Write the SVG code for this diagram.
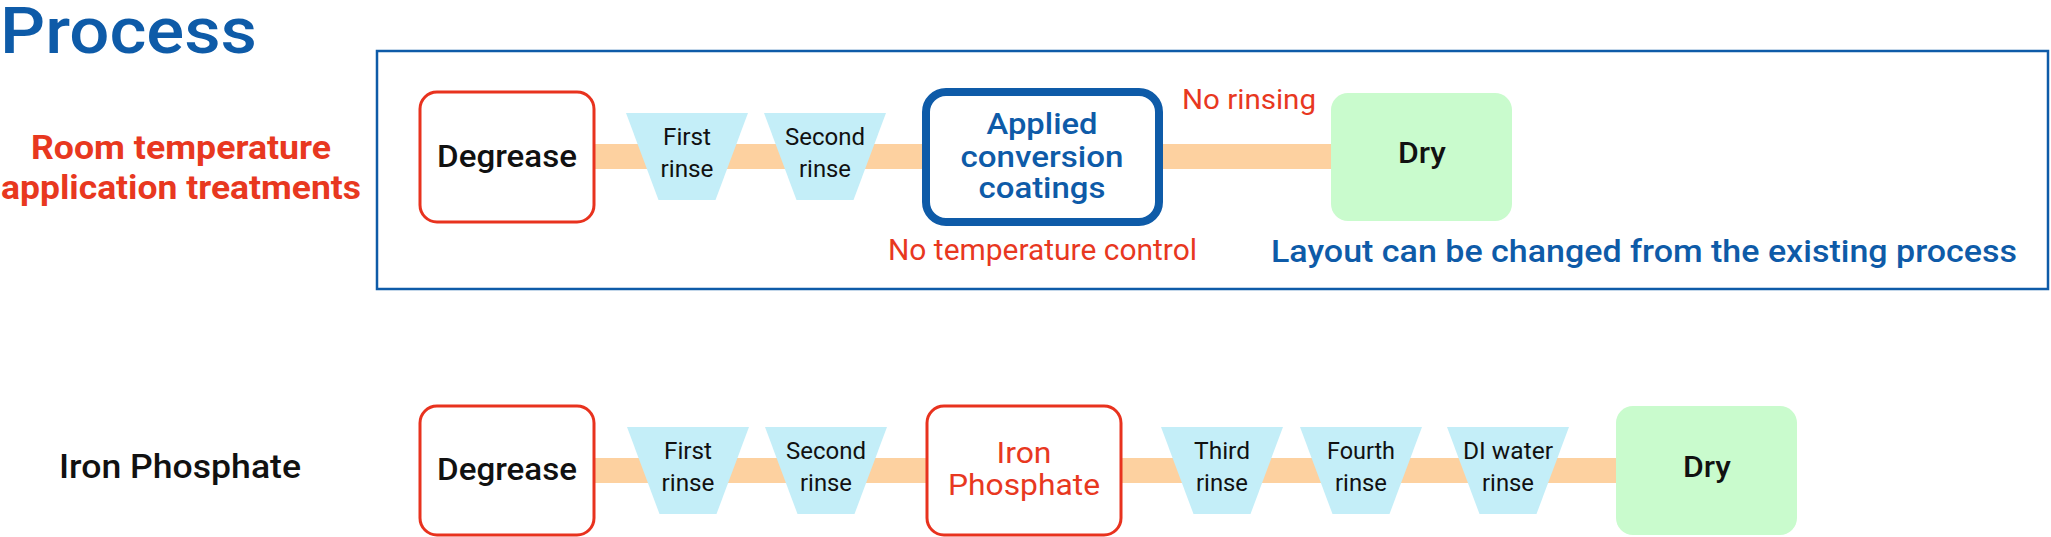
<svg xmlns="http://www.w3.org/2000/svg" width="2051" height="537" viewBox="0 0 2051 537">
<defs>
<style>
text{font-family:Roboto,"Liberation Sans",sans-serif;}
.blue{fill:#0e5ba8;}
.red{fill:#e8381f;}
.dark{fill:#111;}
.med{font-weight:500;}
.bold{font-weight:700;}
.pipe{fill:#fdd1a0;}
.redbox{fill:#fff;stroke:#e8321e;stroke-width:3;}
.bluebox{fill:#fff;stroke:#0e5ba8;stroke-width:8;}
.dry{fill:#c9fbcd;}
.trap{fill:#c4eef8;}
.frame{fill:none;stroke:#0e5ba8;stroke-width:2.5;}
.t25{font-size:24px;}
</style>
</defs>
<rect width="2051" height="537" fill="#fff"/>
<text x="0" y="53" class="blue med" font-size="64" textLength="257" lengthAdjust="spacingAndGlyphs">Process</text>
<rect id="frame" class="frame" x="377" y="51" width="1671" height="238"/>
<g id="label-room" class="red bold" font-size="34" text-anchor="middle">
<text x="181" y="159" textLength="300" lengthAdjust="spacingAndGlyphs">Room temperature</text>
<text x="181" y="199" textLength="360" lengthAdjust="spacingAndGlyphs">application treatments</text>
</g>
<g id="label-iron">
<text x="59" y="478" class="dark med" font-size="34" textLength="242" lengthAdjust="spacingAndGlyphs">Iron Phosphate</text>
</g>
<g id="connectors">
<rect class="pipe" x="594" y="144" width="737" height="25"/>
<rect class="pipe" x="594" y="458" width="1022" height="25"/>
</g>
<g id="degrease-top">
<rect class="redbox" x="420" y="92" width="174" height="130" rx="17"/>
<text x="507" y="167" class="dark med" font-size="32" text-anchor="middle" textLength="140" lengthAdjust="spacingAndGlyphs">Degrease</text>
</g>
<g id="rinse1-top">
<polygon class="trap" points="626,113 748,113 715.5,200 658.5,200"/>
<text x="687" y="145" class="dark t25" text-anchor="middle" textLength="48" lengthAdjust="spacingAndGlyphs">First</text>
<text x="687" y="177" class="dark t25" text-anchor="middle" textLength="53" lengthAdjust="spacingAndGlyphs">rinse</text>
</g>
<g id="rinse2-top">
<polygon class="trap" points="764,113 886,113 853.5,200 796.5,200"/>
<text x="825" y="145" class="dark t25" text-anchor="middle" textLength="80" lengthAdjust="spacingAndGlyphs">Second</text>
<text x="825" y="177" class="dark t25" text-anchor="middle" textLength="52" lengthAdjust="spacingAndGlyphs">rinse</text>
</g>
<g id="applied">
<rect class="bluebox" x="926" y="92" width="233" height="130" rx="20"/>
<g class="blue med" font-size="30" text-anchor="middle">
<text x="1042" y="134" textLength="111" lengthAdjust="spacingAndGlyphs">Applied</text>
<text x="1042" y="167" textLength="163" lengthAdjust="spacingAndGlyphs">conversion</text>
<text x="1042" y="198" textLength="127" lengthAdjust="spacingAndGlyphs">coatings</text>
</g>
</g>
<text x="1182" y="109" class="red" font-size="28" textLength="134" lengthAdjust="spacingAndGlyphs">No rinsing</text>
<text x="888" y="260" class="red" font-size="29" textLength="309" lengthAdjust="spacingAndGlyphs">No temperature control</text>
<g id="dry-top">
<rect class="dry" x="1331" y="93" width="181" height="128" rx="17"/>
<text x="1422" y="163" class="dark med" font-size="30" text-anchor="middle" textLength="48" lengthAdjust="spacingAndGlyphs">Dry</text>
</g>
<text x="1271" y="262" class="blue med" font-size="32" textLength="746" lengthAdjust="spacingAndGlyphs">Layout can be changed from the existing process</text>
<g id="degrease-bottom">
<rect class="redbox" x="420" y="406" width="174" height="129" rx="17"/>
<text x="507" y="480" class="dark med" font-size="32" text-anchor="middle" textLength="140" lengthAdjust="spacingAndGlyphs">Degrease</text>
</g>
<g id="rinse1-bottom">
<polygon class="trap" points="627,427 749,427 716.5,514 659.5,514"/>
<text x="688" y="459" class="dark t25" text-anchor="middle" textLength="48" lengthAdjust="spacingAndGlyphs">First</text>
<text x="688" y="491" class="dark t25" text-anchor="middle" textLength="53" lengthAdjust="spacingAndGlyphs">rinse</text>
</g>
<g id="rinse2-bottom">
<polygon class="trap" points="765,427 887,427 854.5,514 797.5,514"/>
<text x="826" y="459" class="dark t25" text-anchor="middle" textLength="80" lengthAdjust="spacingAndGlyphs">Second</text>
<text x="826" y="491" class="dark t25" text-anchor="middle" textLength="52" lengthAdjust="spacingAndGlyphs">rinse</text>
</g>
<g id="iron-phosphate">
<rect class="redbox" x="927" y="406" width="194" height="129" rx="17"/>
<g class="red" font-size="30" text-anchor="middle">
<text x="1024" y="463" textLength="55" lengthAdjust="spacingAndGlyphs">Iron</text>
<text x="1024" y="495" textLength="152" lengthAdjust="spacingAndGlyphs">Phosphate</text>
</g>
</g>
<g id="rinse3">
<polygon class="trap" points="1161,427 1283,427 1250.5,514 1193.5,514"/>
<text x="1222" y="459" class="dark t25" text-anchor="middle" textLength="56" lengthAdjust="spacingAndGlyphs">Third</text>
<text x="1222" y="491" class="dark t25" text-anchor="middle" textLength="52" lengthAdjust="spacingAndGlyphs">rinse</text>
</g>
<g id="rinse4">
<polygon class="trap" points="1300,427 1422,427 1389.5,514 1332.5,514"/>
<text x="1361" y="459" class="dark t25" text-anchor="middle" textLength="68" lengthAdjust="spacingAndGlyphs">Fourth</text>
<text x="1361" y="491" class="dark t25" text-anchor="middle" textLength="52" lengthAdjust="spacingAndGlyphs">rinse</text>
</g>
<g id="rinse-di">
<polygon class="trap" points="1447,427 1569,427 1536.5,514 1479.5,514"/>
<text x="1508" y="459" class="dark t25" text-anchor="middle" textLength="90" lengthAdjust="spacingAndGlyphs">DI water</text>
<text x="1508" y="491" class="dark t25" text-anchor="middle" textLength="52" lengthAdjust="spacingAndGlyphs">rinse</text>
</g>
<g id="dry-bottom">
<rect class="dry" x="1616" y="406" width="181" height="129" rx="17"/>
<text x="1707" y="477" class="dark med" font-size="30" text-anchor="middle" textLength="48" lengthAdjust="spacingAndGlyphs">Dry</text>
</g>
</svg>
